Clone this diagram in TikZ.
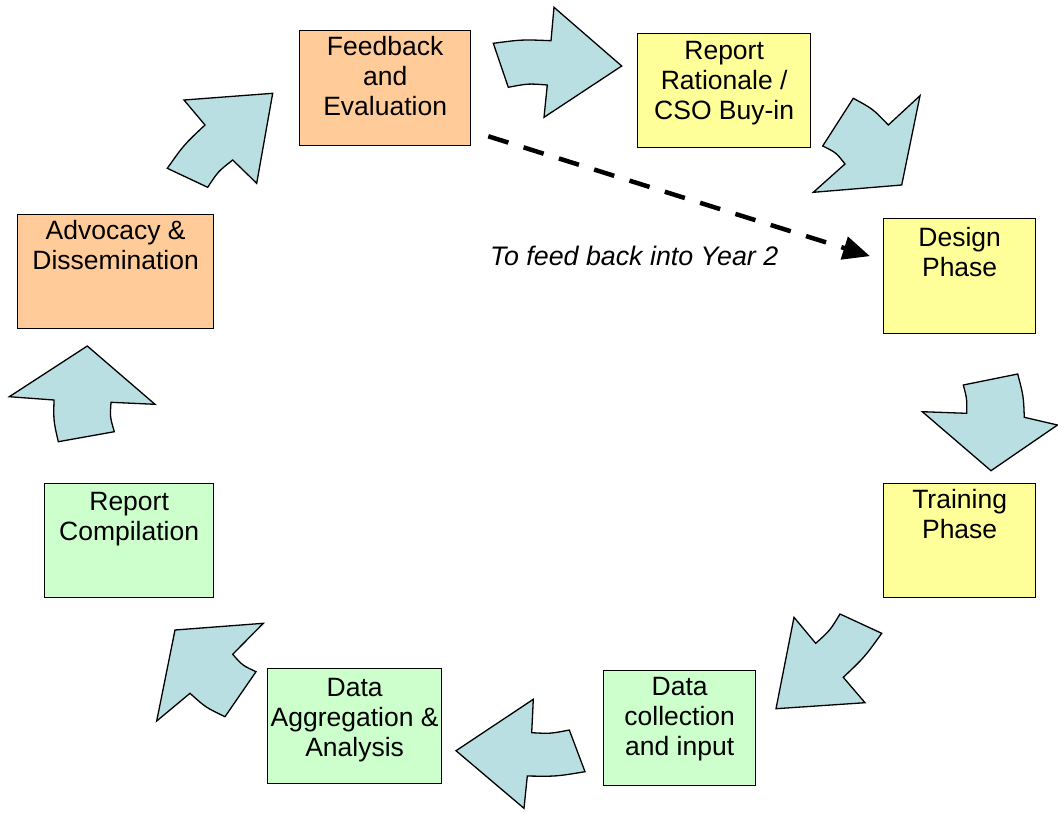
\documentclass[tikz,border=0pt]{standalone}
\usepackage{fontspec}
\setmainfont{Liberation Sans}
\usetikzlibrary{arrows.meta,calc}
\definecolor{orangebox}{RGB}{255,204,153}
\definecolor{yellowbox}{RGB}{255,255,153}
\definecolor{greenbox}{RGB}{204,255,204}
\definecolor{arrowblue}{RGB}{185,223,227}
\begin{document}
\begin{tikzpicture}[x=1pt,y=-1pt,
  box/.style={draw=black, line width=1.3pt, rectangle, inner sep=0pt, anchor=north west},
  lbl/.style={align=center, font=\fontsize{26.5}{30}\selectfont, inner sep=0pt, anchor=base},
  blk/.style={fill=arrowblue, draw=black, line width=1.3pt, line join=miter}]
\useasboundingbox (0,0) rectangle (1058,812);
\fill[white] (0,0) rectangle (1058,812);
% boxes
\node[box, fill=orangebox, minimum width=171pt, minimum height=115pt] (b1) at (299,30) {};
\node[box, fill=yellowbox, minimum width=173pt, minimum height=114pt] (b2) at (637,33) {};
\node[box, fill=yellowbox, minimum width=152pt, minimum height=115pt] (b3) at (883,218) {};
\node[box, fill=yellowbox, minimum width=152pt, minimum height=114pt] (b4) at (883,483) {};
\node[box, fill=greenbox, minimum width=152pt, minimum height=115pt] (b5) at (603,670) {};
\node[box, fill=greenbox, minimum width=174pt, minimum height=115pt] (b6) at (267,668) {};
\node[box, fill=greenbox, minimum width=169pt, minimum height=114pt] (b7) at (44,483) {};
\node[box, fill=orangebox, minimum width=196pt, minimum height=114pt] (b8) at (17,214) {};
% labels (anchor base = last line's baseline)
\node[lbl] (t1) at ($(b1.north)+(0,85)$) {Feedback\\and\\Evaluation};
\node[lbl] (t2) at ($(b2.north)+(0,86)$) {Report\\Rationale /\\CSO Buy-in};
\node[lbl] (t3) at ($(b3.north)+(0,58)$) {Design\\Phase};
\node[lbl] (t4) at ($(b4.north)+(0,55)$) {Training\\Phase};
\node[lbl] (t5) at ($(b5.north)+(0,85)$) {Data\\collection\\and input};
\node[lbl] (t6) at ($(b6.north)+(0,88)$) {Data\\Aggregation \&\\Analysis};
\node[lbl] (t7) at ($(b7.north)+(0,57)$) {Report\\Compilation};
\node[lbl] (t8) at ($(b8.north)+(0,55)$) {Advocacy \&\\Dissemination};
% block arrows
\draw[blk] (493.3,43.3) .. controls (522,39.5) .. (551,40.7) -- (554,7.3) -- (621.7,66) -- (544,117.3) -- (547.3,85) .. controls (528,83.5) .. (508.3,87.3) -- cycle;
\draw[blk] (853.3,98.3) .. controls (873,109) .. (888.3,125) -- (920,95.7) -- (901.7,185) -- (813.3,192.3) -- (845,164) .. controls (836,152.5) .. (822.7,146) -- cycle;
\draw[blk] (966.7,413.3) .. controls (967,399) .. (963.3,385) -- (1017.7,374) .. controls (1023.5,396) .. (1024.3,417.3) -- (1057.5,425) -- (991,470.7) -- (922.3,411.7) -- cycle;
\draw[blk] (794,617.3) -- (815.7,643.3) .. controls (830,630.5) .. (840,614) -- (881.7,633.3) .. controls (864.7,657) .. (843.3,677.3) -- (865,702.7) -- (776,708.7) -- cycle;
\draw[blk] (456,750.7) -- (533.3,699.3) -- (531.7,732.7) .. controls (550.5,733.7) .. (569.3,730) -- (585,771.7) .. controls (556,776.5) .. (527.3,776) -- (524,808.3) -- cycle;
\draw[blk] (175,630) -- (263.3,623.3) -- (232.7,654.3) .. controls (242.5,665.4) .. (256,671.7) -- (225,716.7) .. controls (205.8,707.5) .. (190,693.3) -- (156.7,721) -- cycle;
\draw[blk] (87.3,346) -- (155,404.3) -- (111,402.3) .. controls (110,417) .. (114.3,431.7) -- (58.3,441.7) .. controls (53.5,420.8) .. (54,400) -- (9.3,396.7) -- cycle;
\draw[blk] (272.7,93.3) -- (256.7,183.3) -- (232.7,160) .. controls (218,171.6) .. (207.7,187.3) -- (167.3,168.3) .. controls (184,144.7) .. (205,125) -- (184,100) -- cycle;
% dashed feedback arrow
\coordinate (ds) at ($(b1.south east)+(17,-10)$);
\coordinate (de) at ($(b3.west)+(-13,-20)$);
\draw[line width=4.5pt, dash pattern=on 21pt off 16pt, -{Triangle[length=27pt,width=23pt]}] (ds) -- (de);
\node[anchor=base west, font=\fontsize{26.8}{30}\selectfont\itshape, inner sep=0pt] (note) at (490,265) {To feed back into Year 2};
\end{tikzpicture}
\end{document}
